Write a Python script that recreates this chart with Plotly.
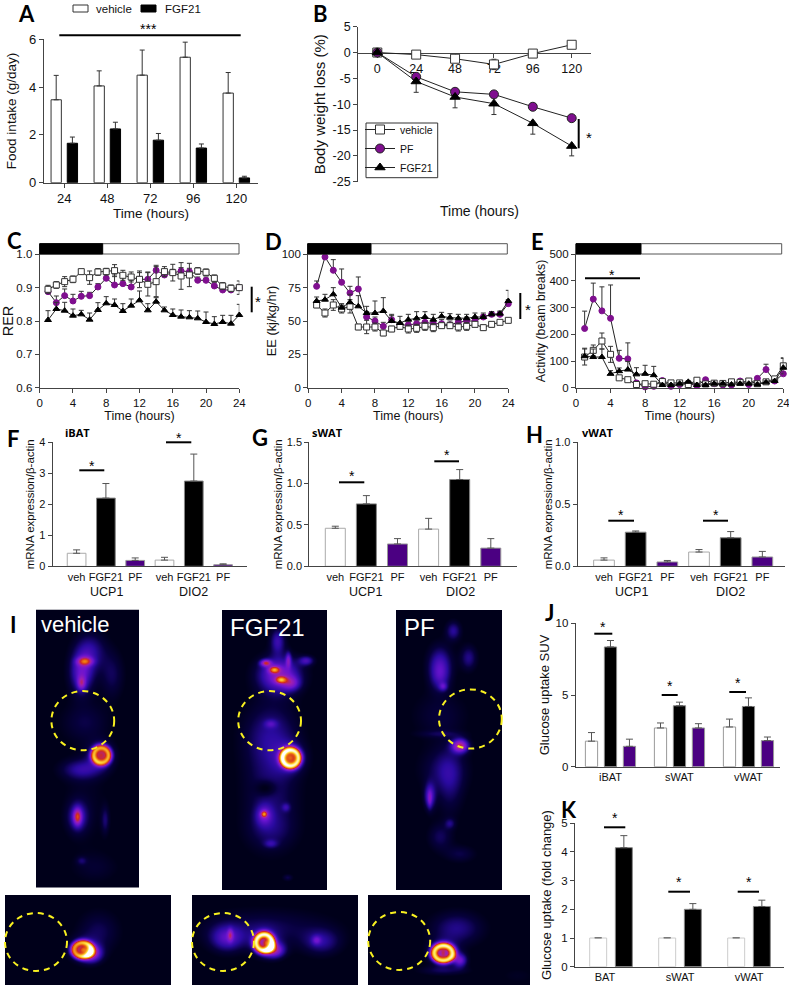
import numpy as np
import plotly.graph_objects as go

W, H = 789, 985
SANS = "Liberation Sans"
INK = "#2b2b2b"
PURPLE = "#7f0f8f"
INDIGO = "#4b0082"

# ---------- data ----------
a_hours = [24, 48, 72, 96, 120]
a_veh = [3.47, 4.05, 4.5, 5.25, 3.75]
a_veh_err = [1.02, 0.63, 1.05, 0.63, 0.86]
a_fgf = [1.65, 2.25, 1.78, 1.45, 0.2]
a_fgf_err = [0.26, 0.28, 0.28, 0.17, 0.07]

b_hours = [0, 24, 48, 72, 96, 120]
b_veh = [0, -0.4, -1.2, -2.3, -0.2, 1.5]
b_veh_err = [0.2, 0.3, 0.5, 1.0, 0.3, 0.3]
b_pf = [0, -4.7, -7.6, -8.1, -10.5, -12.7]
b_pf_err = [0.2, 0.5, 0.5, 0.5, 0.5, 0.5]
b_fgf = [0, -5.6, -8.6, -9.9, -13.7, -18.1]
b_fgf_err = [0.2, 2.1, 2.1, 2.1, 2.1, 1.9]

hours24 = list(range(1, 25))
c_veh = [.895, .908, .918, .925, .948, .93, .947, .948, .951, .937, .932, .925, .91, .918, .948, .945, .935, .938, .95, .946, .928, .905, .898, .90]
c_veh_err = [.012, .01, .015, .01, .005, .02, .01, .01, .018, .015, .015, .025, .035, .045, .015, .025, .04, .035, .01, .01, .01, .01, .01, .02]
c_pf = [.888, .855, .876, .86, .874, .876, .902, .928, .908, .912, .902, .925, .925, .952, .938, .945, .95, .948, .922, .922, .905, .893, .893, .90]
c_pf_err = [.01, .02, .02, .02, .015, .01, .01, .015, .03, .02, .02, .02, .022, .015, .01, .01, .01, .01, .01, .01, .01, .01, .01, .01]
c_fgf = [.803, .836, .831, .816, .82, .804, .833, .853, .848, .83, .846, .862, .832, .858, .832, .818, .813, .811, .808, .797, .791, .797, .792, .818]
c_fgf_err = [.028, .02, .025, .02, .012, .02, .022, .02, .018, .022, .02, .028, .02, .012, .01, .018, .02, .02, .022, .03, .022, .02, .025, .032]

d_veh = [62, 56, 62, 59, 61, 45.5, 45.5, 45.5, 41, 44, 46, 44, 44.5, 46, 45, 46.5, 46.5, 45.5, 46, 47.5, 45, 47.5, 49, 50.5]
d_veh_err = [2, 3, 4, 3, 5, 2, 5, 3, 2, 2, 2, 3, 3, 3, 3, 2, 2, 3, 3, 2, 2, 2, 1, 1]
d_pf = [76, 98, 88, 79, 71, 74, 53, 50, 46, 51, 47, 47, 48, 49, 48, 48, 47, 49, 50, 50, 53, 55, 55, 63]
d_pf_err = [4, 3, 8, 10, 5, 9, 4, 3, 3, 3, 2, 2, 2, 3, 3, 3, 3, 3, 3, 3, 2, 2, 2, 3]
d_fgf = [65, 66, 70, 60, 64, 61, 56, 56, 57.5, 50, 48.5, 51, 52, 53, 51, 53.5, 52.5, 52, 52, 53, 53, 55, 55.5, 65]
d_fgf_err = [3, 4, 5, 3, 6, 8, 5, 9, 10, 5, 5, 4, 5, 4, 4, 3, 3, 3, 3, 3, 3, 2, 2, 8]

e_veh = [115, 140, 175, 125, 37, 30, 12, 15, 13, 23, 18, 18, 12, 28, 14, 17, 16, 22, 20, 25, 15, 22, 33, 82]
e_veh_err = [30, 20, 30, 30, 5, 5, 5, 5, 5, 5, 5, 5, 5, 5, 5, 5, 5, 5, 5, 5, 5, 5, 5, 30]
e_pf = [222, 332, 288, 260, 110, 108, 18, 3, 5, 27, 5, 12, 15, 8, 30, 15, 10, 10, 25, 12, 35, 68, 25, 52]
e_pf_err = [65, 60, 90, 125, 30, 60, 8, 3, 3, 5, 3, 3, 5, 3, 5, 5, 5, 3, 5, 3, 5, 20, 8, 10]
e_fgf = [118, 115, 115, 52, 62, 68, 50, 52, 47, 10, 10, 15, 22, 10, 10, 15, 15, 12, 15, 15, 12, 20, 25, 75]
e_fgf_err = [30, 30, 30, 12, 12, 30, 25, 32, 33, 5, 5, 5, 5, 5, 5, 5, 5, 5, 5, 5, 5, 5, 5, 35]

gene_labels = ["veh", "FGF21", "PF", "veh", "FGF21", "PF"]
f_vals = [.42, 2.2, .19, .2, 2.75, .05]
f_errs = [.11, .47, .08, .09, .87, .03]
g_vals = [.46, .755, .27, .45, 1.05, .22]
g_errs = [.025, .1, .065, .13, .12, .115]
h_vals = [.05, .275, .035, .115, .23, .075]
h_errs = [.018, .01, .012, .02, .05, .045]

j_tissues = ["iBAT", "sWAT", "vWAT"]
j_veh = [1.78, 2.7, 2.77]
j_veh_err = [.6, .35, .55]
j_fgf = [8.35, 4.25, 4.2]
j_fgf_err = [.45, .25, .6]
j_pf = [1.42, 2.7, 1.82]
j_pf_err = [.5, .3, .25]

k_tissues = ["BAT", "sWAT", "vWAT"]
k_veh = [1, 1, 1]
k_veh_err = [.015, .015, .015]
k_fgf = [4.15, 2.0, 2.1]
k_fgf_err = [.42, .2, .22]

# PET scan intensity sketches: (x, y, sx, sy, amplitude) in crop units
pet_veh_top = [(265,150,45,55,.22),(240,215,35,60,.34),(250,180,22,12,.42),(240,245,12,20,.3),(330,220,35,70,.14),
               (250,360,70,60,.12),(240,500,60,30,.22),(298,458,38,38,.3),(298,458,12,12,.3),(228,640,12,24,.4),(228,640,30,45,.25),
               (310,650,12,40,.15),(250,600,70,130,.06),(240,770,15,12,.12),(280,790,70,45,.08)]
pet_fgf_top = [(825,220,62,52,.44),(785,185,16,10,.46),(810,205,16,10,.46),(830,235,16,10,.42),(860,245,25,20,.26),(852,175,8,22,.28),
               (905,178,22,14,.26),(820,120,22,38,.26),(800,400,80,100,.2),(800,365,18,12,.15),(858,466,40,40,.3),(858,466,12,12,.3),
               (800,580,80,140,.16),(785,555,30,22,-.14),(780,632,9,9,.4),(780,635,24,30,.25),(845,612,12,12,.15),
               (800,720,20,12,.15),(800,680,70,55,.1),(850,820,15,10,.12)]
pet_pf_top = [(1340,90,22,28,.22),(1300,190,35,55,.28),(1300,230,28,40,.15),(1310,255,12,12,.2),(1385,170,24,36,.2),
              (1300,340,80,70,.1),(1300,395,70,10,.08),(1360,430,24,20,.55),(1310,500,70,65,.14),(1270,580,16,38,.32),
              (1270,590,6,25,.12),(1330,540,40,100,.14),(1330,660,15,15,.15),(1300,700,35,40,.14),(1360,750,45,25,.12)]
pet_veh_bot = [(270,1045,30,25,.42),(290,980,60,60,.14),(243,1033,40,34,.25),(243,1033,12,10,.3)]
pet_fgf_bot = [(810,1035,30,22,.45),(680,990,8,18,.25),(670,1000,48,38,.28),(780,970,190,55,.14),(935,1005,13,13,.18),(950,1010,55,38,.2),(780,1012,40,38,.25),(785,1012,12,10,.28)]
pet_pf_bot = [(1310,1043,42,36,.28),(1310,1043,10,12,.3),(1360,1065,20,20,.35),(1350,970,75,48,.2),(1310,1095,75,14,.12),(1530,1110,55,25,.05)]
# hot rings: (x, y, ax, ay, amplitude)
ring_veh_top = [(298,458,28,28,.6)]
ring_fgf_top = [(858,466,30,30,.68)]
ring_pf_top = []
ring_veh_bot = [(243,1033,32,26,.6)]
ring_fgf_bot = [(780,1012,30,30,.72)]
ring_pf_bot = [(1310,1043,34,28,.74)]

# ---------- helpers ----------
fig = go.Figure()
layout = dict(width=W, height=H, autosize=False, margin=dict(l=0, r=0, t=0, b=0), paper_bgcolor="white",
              plot_bgcolor="rgba(0,0,0,0)", barmode="overlay", font=dict(family=SANS, color=INK), shapes=[], annotations=[])

def px(x): return x / W
def py(y): return 1 - y / H

def text(x, y, s, size=12, bold=False, family=SANS, color="#111", angle=0):
    layout["annotations"].append(dict(x=px(x), y=py(y), xref="paper", yref="paper", text=f"<b>{s}</b>" if bold else s,
                                      showarrow=False, xanchor="center", yanchor="middle", textangle=angle,
                                      font=dict(size=size, family=family, color=color)))

def label(x, y, s):
    text(x, y, s, size=22, bold=True, family="Lato", color="#000")

def rect(x0, y0, x1, y1, fill, line="#333", lw=1):
    layout["shapes"].append(dict(type="rect", xref="paper", yref="paper", x0=px(x0), x1=px(x1), y0=py(y0), y1=py(y1),
                                 fillcolor=fill, line=dict(color=line, width=lw)))

def sigline(x0, x1, y, star_x, star_y, lw=2, stars="*"):
    layout["shapes"].append(dict(type="line", xref="paper", yref="paper", x0=px(x0), x1=px(x1), y0=py(y), y1=py(y),
                                 line=dict(color="#000", width=lw)))
    if star_x is not None:
        text(star_x, star_y, stars, size=14, color="#000")

def vsig(x, y0, y1, star_x, star_y):
    layout["shapes"].append(dict(type="line", xref="paper", yref="paper", x0=px(x), x1=px(x), y0=py(y0), y1=py(y1),
                                 line=dict(color="#000", width=2)))
    text(star_x, star_y, "*", size=15, color="#000")

def axes(i, l, r, t, b, xr, yr, xvals, xtext, yvals, ytext=None, xtitle=None, ytitle=None, tsize=12.5,
         xtsize=None, ysize=13, xsize=12.5, ytitle_x=None, xtitle_y=None, xticks=True, xline_y=None, layer="above traces"):
    ytext = ytext if ytext is not None else [str(v) for v in yvals]
    xd = dict(domain=[px(l), px(r)], range=xr, tickmode="array", tickvals=xvals, ticktext=xtext, showgrid=False, zeroline=False,
              showline=True, linecolor="#444", linewidth=1.2, ticks="outside" if xticks else "", ticklen=4 if xticks else 0, tickwidth=1,
              tickcolor="#444", tickfont=dict(size=xtsize or tsize, color="#111", family=SANS), automargin=False, layer=layer,
              ticklabeloverflow="allow", anchor=f"y{i}" if i > 1 else "y")
    yd = dict(domain=[py(b), py(t)], range=yr, tickmode="array", tickvals=yvals, ticktext=ytext, showgrid=False, zeroline=False,
              showline=True, linecolor="#444", linewidth=1.2, ticks="outside", ticklen=4, tickwidth=1, tickcolor="#444",
              tickfont=dict(size=tsize, color="#111", family=SANS), automargin=False, anchor=f"x{i}" if i > 1 else "x")
    if xline_y is not None:
        xd.update(anchor="free", position=py(xline_y))
    if xtitle:
        base = xline_y if xline_y is not None else b
        so = xtitle_y - base - 4 - (xtsize or tsize) * 1.2 - xsize * 0.55
        xd["title"] = dict(text=xtitle, font=dict(size=xsize, color="#111", family=SANS), standoff=max(so, 0))
    if ytitle:
        w = max(len(s) for s in ytext) * 0.556 * tsize
        so = l - 4 - w - ytitle_x - ysize * 0.55 - 3.5
        yd["title"] = dict(text=ytitle, font=dict(size=ysize, color="#111", family=SANS), standoff=max(so, 0))
    layout["xaxis" if i == 1 else f"xaxis{i}"] = xd
    layout["yaxis" if i == 1 else f"yaxis{i}"] = yd

def ax(i):
    return dict(xaxis="x" if i == 1 else f"x{i}", yaxis="y" if i == 1 else f"y{i}")

def bar(i, x, y, err, width, fill, line, lw=1, errc="#333", cap=2.5, name=None):
    fig.add_trace(go.Bar(x=x, y=y, width=width, name=name, showlegend=False, marker=dict(color=fill, line=dict(color=line, width=lw)),
                         error_y=dict(type="data", symmetric=False, array=err, arrayminus=[0] * len(err), color=errc, thickness=1, width=cap),
                         **ax(i)))

def series(i, x, y, err, kind, size=6, both=False, minus=False, legend=False, name=None):
    style = {"veh": dict(symbol="square", color="white", line="#333"),
             "pf": dict(symbol="circle", color=PURPLE, line="#222" if legend else PURPLE),
             "fgf": dict(symbol="triangle-up", color="#000", line="#000")}[kind]
    zeros = [0] * len(err)
    fig.add_trace(go.Scatter(x=x, y=y, mode="lines+markers", name=name, showlegend=legend, cliponaxis=False,
                             line=dict(color="#222", width=1),
                             marker=dict(size=size, symbol=style["symbol"], color=style["color"], line=dict(color=style["line"], width=1)),
                             error_y=dict(type="data", symmetric=False, array=zeros if minus else err,
                                          arrayminus=err if (both or minus) else zeros, color="#333", thickness=1, width=2.5),
                             **ax(i)))

def light_bar(t, b, l, split, r):
    rect(l, t, r, b, "white", "#555", 1)
    rect(l, t, split, b, "#000", "#000", 1)

# ---------- A ----------
pA = 43 / 24
axes(1, 44, 258, 39.3, 182.7, [24 - (64.3 - 44) / pA, 24 + (258 - 64.3) / pA], [0, 6], a_hours, [str(v) for v in a_hours],
     [0, 2, 4, 6], xtitle="Time (hours)", ytitle="Food intake (g/day)", tsize=13, ysize=13.5, xsize=13.5, ytitle_x=13, xtitle_y=209)
bar(1, [h - 8.1 / pA for h in a_hours], a_veh, a_veh_err, 10.3 / pA, "white", "#333", name="vehicle")
bar(1, [h + 8.1 / pA for h in a_hours], a_fgf, a_fgf_err, 10.3 / pA, "#000", "#000", name="FGF21")
label(26, 13.5, "A")
rect(73, 5, 88, 12, "white", "#333")
rect(141, 5, 156, 12, "#000", "#000")
text(114, 8.5, "vehicle", 11.5)
text(183, 8.5, "FGF21", 11.5)
sigline(59.3, 240.7, 35.3, 148, 29, stars="***")

# ---------- B ----------
pB = 194.4 / 120
axes(2, 358.3, 591, 26.7, 181.7, [-(377.3 - 358.3) / pB, (591 - 377.3) / pB], [-25, 5], b_hours, [str(v) for v in b_hours],
     [-25, -20, -15, -10, -5, 0, 5], ytitle="Body weight loss (%)", tsize=12.5, xtsize=12.5, ysize=15,
     ytitle_x=319, xline_y=52.7, layer="below traces")
text(479.7, 211, "Time (hours)", 14)
series(2, b_hours, b_veh, b_veh_err, "veh", size=9, both=True, legend=True, name="vehicle")
series(2, b_hours, b_pf, b_pf_err, "pf", size=9, both=True, legend=True, name="PF")
series(2, b_hours, b_fgf, b_fgf_err, "fgf", size=9, minus=True, legend=True, name="FGF21")
label(320, 13.5, "B")
vsig(578.7, 119, 148.3, 589, 137)
rect(366, 123, 437.7, 177.7, "white", "#333")
layout["legend"] = dict(x=px(360), y=py(115), xanchor="left", yanchor="top", bgcolor="rgba(0,0,0,0)", borderwidth=0,
                        font=dict(size=10.5, color="#111", family=SANS), itemwidth=30)

# ---------- C D E ----------
h_ticks = [0, 4, 8, 12, 16, 20, 24]
h_text = [str(v) for v in h_ticks]
axes(3, 39.7, 239.3, 254.3, 387.7, [0, 24], [.6, 1.0], h_ticks, h_text, [.6, .7, .8, .9, 1.0], ["0.6", "0.7", "0.8", "0.9", "1.0"],
     xtitle="Time (hours)", ytitle="RER", tsize=11.5, ysize=14.5, ytitle_x=7, xtitle_y=415)
series(3, hours24, c_pf, c_pf_err, "pf")
series(3, hours24, c_veh, c_veh_err, "veh", both=True)
series(3, hours24, c_fgf, c_fgf_err, "fgf")
label(14.5, 240, "C")
light_bar(243.7, 254, 39.7, 102.7, 239)
vsig(251.7, 286.7, 312.3, 258, 302)

axes(4, 308.3, 508.3, 254.3, 387.7, [0, 24], [0, 100], h_ticks, h_text, [0, 25, 50, 75, 100],
     xtitle="Time (hours)", ytitle="EE (kj/kg/hr)", tsize=11.5, ysize=12.8, ytitle_x=273, xtitle_y=415)
series(4, hours24, d_pf, d_pf_err, "pf")
series(4, hours24, d_veh, d_veh_err, "veh", both=True)
series(4, hours24, d_fgf, d_fgf_err, "fgf")
label(273.5, 241, "D")
light_bar(243.7, 254, 307.7, 371, 507.3)
vsig(520.3, 293, 319, 527.7, 309)

axes(5, 576, 783.3, 254.3, 387.7, [0, 24], [0, 500], h_ticks, h_text, [0, 100, 200, 300, 400, 500],
     xtitle="Time (hours)", ytitle="Activity (beam breaks)", tsize=11.5, ysize=12.4, ytitle_x=541.7, xtitle_y=415)
series(5, hours24, e_pf, e_pf_err, "pf")
series(5, hours24, e_veh, e_veh_err, "veh", both=True)
series(5, hours24, e_fgf, e_fgf_err, "fgf")
label(537, 241, "E")
light_bar(243.7, 254, 576, 641, 781.7)
sigline(585, 640, 278.3, 611.7, 275)

# ---------- F G H ----------
def gene_panel(i, l, r, c0, step, w, vals, errs, ymax, yvals, ytext, title, title_x, title_lbl, lbl_x, ucp_x, dio_x):
    axes(i, l, r, 442.3, 566.3, [(l - c0) / step, (r - c0) / step], [0, ymax], list(range(6)), gene_labels, yvals, ytext,
         ytitle="mRNA expression/β-actin", tsize=11, ysize=11.5, ytitle_x=title_x, xticks=False)
    width = w / step
    for start, fill, line in ((0, "white", "#aaa"), (1, "#000", "#888"), (2, INDIGO, "#999")):
        idx = [start, start + 3]
        bar(i, idx, [vals[k] for k in idx], [errs[k] for k in idx], width, fill, line, errc="#555", cap=3.5)
    text(lbl_x, 433, title_lbl, 11, bold=True, family="Open Sans", color="#000")
    text(ucp_x, 592, "UCP1", 12.5)
    text(dio_x, 592, "DIO2", 12.5)

gene_panel(6, 52.7, 247.3, 76.6, 29.3, 18.7, f_vals, f_errs, 4, [0, 1, 2, 3, 4], None, "", 31, "iBAT", 77, 106, 193)
label(13, 438, "F")
sigline(79.3, 104.3, 470.3, 92.3, 466)
sigline(166, 191.3, 442.3, 179, 438)

gene_panel(7, 309.3, 516.7, 335.3, 31.1, 20, g_vals, g_errs, 1.5, [0, .5, 1.0, 1.5], ["0.0", "0.5", "1.0", "1.5"], "", 275.7, "sWAT", 327.3, 365, 460.7)
label(259.5, 437, "G")
sigline(339, 364.3, 482.3, 352, 476)
sigline(434.3, 459, 461.3, 447, 455)

gene_panel(8, 577.7, 785, 604, 31.67, 20.7, h_vals, h_errs, 1.0, [0, .5, 1.0], ["0.0", "0.5", "1.0"], "", 551.7, "vWAT", 597.3, 631, 730.7)
label(534, 434, "H")
sigline(608.3, 634, 520.7, 621, 515)
sigline(703, 728, 520.7, 716, 515)

# ---------- J K ----------
axes(9, 575.7, 780, 623.3, 766.7, [-.504, 2.457], [0, 10], [0, 1, 2], j_tissues, [0, 5, 10], xticks=False,
     ytitle="Glucose uptake SUV", tsize=11.5, xtsize=11, ysize=13, ytitle_x=545.7)
xj = [0, 1, 2]
bar(9, [v - .275 for v in xj], j_veh, j_veh_err, .177, "white", "#999", errc="#555", cap=3.5)
bar(9, xj, j_fgf, j_fgf_err, .177, "#000", "#888", errc="#555", cap=3.5)
bar(9, [v + .275 for v in xj], j_pf, j_pf_err, .177, INDIGO, "#999", errc="#555", cap=3.5)
label(549, 612, "J")
sigline(594.3, 612.3, 633.7, 602.7, 627)
sigline(661.7, 677.7, 695, 670.3, 686)
sigline(729.3, 746, 692, 738.3, 683)

axes(10, 575, 784, 823.3, 966.7, [-.522, 2.507], [0, 5], [-.087, 1, 2], k_tissues, [0, 1, 2, 3, 4, 5], xticks=False,
     ytitle="Glucose uptake (fold change)", tsize=11.5, xtsize=11, ysize=13, ytitle_x=548.3)
bar(10, [v - .186 for v in xj], k_veh, k_veh_err, .246, "white", "#ccc", errc="#777", cap=3.5)
bar(10, [v + .186 for v in xj], k_fgf, k_fgf_err, .246, "#000", "#888", errc="#555", cap=3.5)
label(568.5, 809, "K")
sigline(604, 625.3, 827.3, 615.3, 818)
sigline(668.3, 690, 891.7, 679.3, 882)
sigline(737.7, 759, 891.7, 749, 882)

# ---------- I: PET images ----------
PET_COLORS = [[0, "#00001a"], [.08, "#06003c"], [.2, "#2a0aa0"], [.35, "#6a14d0"], [.5, "#a020b0"], [.62, "#d02a20"],
              [.75, "#f08010"], [.88, "#ffe040"], [1, "#ffffff"]]
SCALE = 530 / 1568

def pet(i, l, r, t, b, blobs, rings):
    xs = np.arange(l, r + 1, 1.0)
    ys = np.arange(t, b + 1, 1.0)
    gx, gy = np.meshgrid(xs, ys)
    z = np.zeros_like(gx)
    for cx, cy, sx, sy, amp in blobs:
        z += amp * np.exp(-(((gx - cx * SCALE) / (sx * SCALE)) ** 2 + ((gy - 600 - cy * SCALE) / (sy * SCALE)) ** 2))
    for cx, cy, ax_, ay_, amp in rings:
        rr = np.sqrt(((gx - cx * SCALE) / (ax_ * SCALE)) ** 2 + ((gy - 600 - cy * SCALE) / (ay_ * SCALE)) ** 2)
        z += amp * np.exp(-(((rr - 0.8) / 0.38) ** 2))
    z = np.clip(z - 0.03, 0, 1)
    xname = f"xaxis{i}"
    yname = f"yaxis{i}"
    layout[xname] = dict(domain=[px(l), px(r)], range=[l, r], visible=False, anchor=f"y{i}")
    layout[yname] = dict(domain=[py(min(b, H)), py(t)], range=[min(b, H), t], visible=False, anchor=f"x{i}")
    fig.add_trace(go.Heatmap(x=xs, y=ys, z=np.round(z, 3).tolist(), zmin=0, zmax=1, colorscale=PET_COLORS, zsmooth="best",
                             showscale=False, hoverinfo="skip", **ax(i)))

pet(11, 36, 139, 609.5, 888, pet_veh_top, ring_veh_top)
pet(12, 222, 327, 610, 890, pet_fgf_top, ring_fgf_top)
pet(13, 396, 502, 610, 890, pet_pf_top, ring_pf_top)
pet(14, 5, 171, 895, 985, pet_veh_bot, ring_veh_bot)
pet(15, 192, 358, 895, 985, pet_fgf_bot, ring_fgf_bot)
pet(16, 368, 530, 895, 985, pet_pf_bot, ring_pf_bot)

for cx, cy, rx, ry in [(82.8, 720.7, 31.4, 29.6), (269.6, 720.7, 31.4, 29.6), (470.4, 719, 31.4, 29.6),
                       (36, 942, 31, 29), (223, 942, 31, 29), (399.2, 941, 31, 29)]:
    layout["shapes"].append(dict(type="circle", xref="paper", yref="paper", x0=px(cx - rx), x1=px(cx + rx), y0=py(cy + ry), y1=py(cy - ry),
                                 line=dict(color="#f8f020", width=2, dash="6px,5px")))
text(75, 624, "vehicle", 22, color="white", family=SANS)
text(267.5, 627, "FGF21", 24, color="white", family=SANS)
text(419.5, 627, "PF", 24, color="white", family=SANS)
label(13.5, 624.5, "I")

fig.update_layout(**layout)
fig.write_html("out.html", config={"displayModeBar": False},
               post_script="document.body.style.margin='0';document.documentElement.style.overflow='hidden';")
